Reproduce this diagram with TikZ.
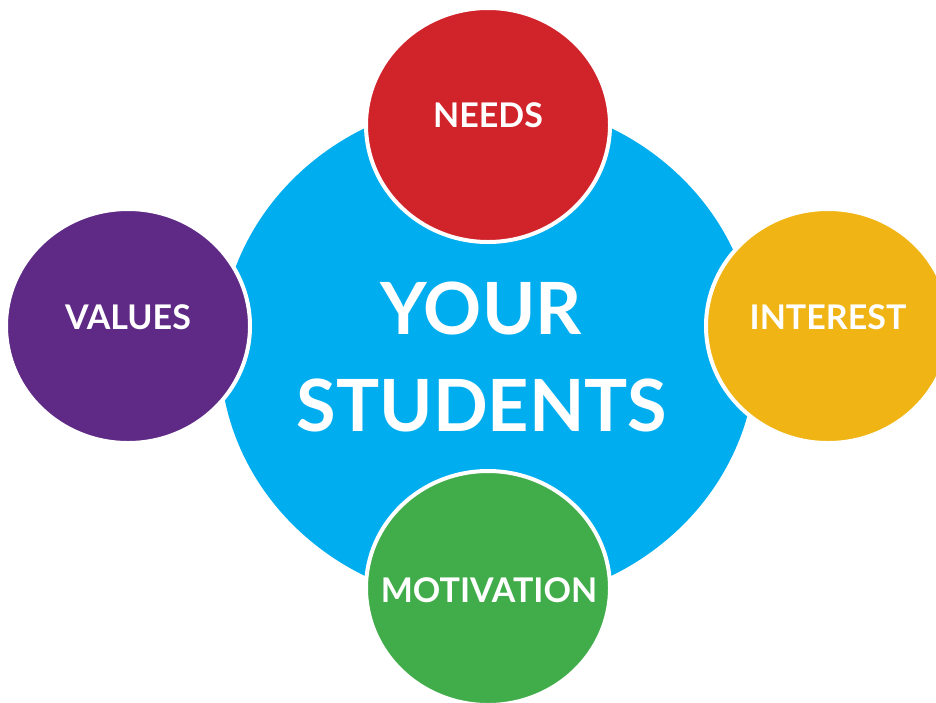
\documentclass[tikz,border=0pt]{standalone}
\usepackage{fontspec}
\setmainfont{Lato}
\usetikzlibrary{shapes.geometric}
\definecolor{coreblue}{RGB}{0,174,239}
\definecolor{needsred}{RGB}{209,35,42}
\definecolor{valuespurple}{RGB}{94,42,134}
\definecolor{interestyellow}{RGB}{240,180,20}
\definecolor{motivgreen}{RGB}{65,173,74}
\begin{document}
\begin{tikzpicture}[x=1pt,y=-1pt,
  bubble/.style={ellipse,draw=white,line width=4pt,minimum width=244pt,minimum height=234pt,inner sep=0pt},
  word/.style={text=white,inner sep=0pt,font=\fontsize{34}{40}\selectfont\bfseries},
  bigword/.style={text=white,inner sep=0pt,font=\fontsize{72}{86}\selectfont\bfseries}]%
\useasboundingbox (0,0) rectangle (936,702);%
\clip (0,0) rectangle (936,702);%
\fill[white] (0,0) rectangle (936,702);%
\node[ellipse,fill=coreblue,minimum width=536pt,minimum height=504pt,inner sep=0pt] (core) at (488,352) {};%
\node[bubble,fill=needsred] (needs) at (488,125) {};%
\node[bubble,fill=valuespurple] (values) at (128,326) {};%
\node[bubble,fill=interestyellow] (interest) at (828,326) {};%
\node[bubble,fill=motivgreen] (motivation) at (488,588) {};%
\node[word] (needslabel) at (488,115) {NEEDS};%
\node[word] (valueslabel) at (128,317) {VALUES};%
\node[word] (interestlabel) at (828,317) {INTEREST};%
\node[word] (motivationlabel) at (489,590) {MOTIVATION};%
\node[bigword] (yourlabel) at (481,308) {YOUR};%
\node[bigword] (studentslabel) at (482,405) {STUDENTS};%
\end{tikzpicture}
\end{document}
